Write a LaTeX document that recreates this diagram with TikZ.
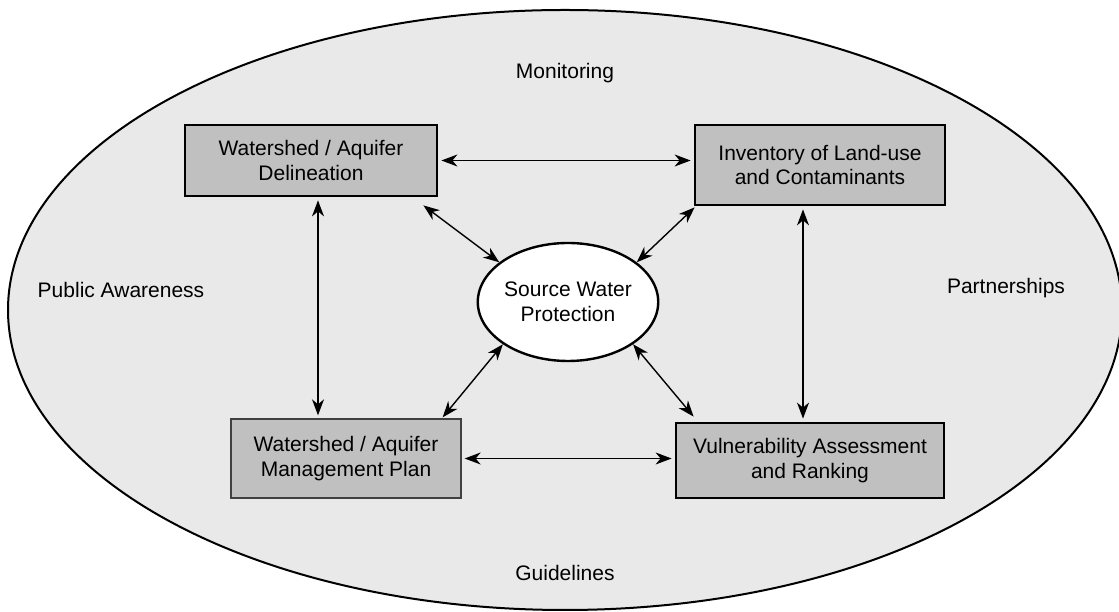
\documentclass[tikz,border=0pt]{standalone}
\usepackage{fontspec}
\setmainfont{Liberation Sans}
\usetikzlibrary{arrows.meta,shapes.geometric,calc}
\definecolor{bgfill}{HTML}{E9E9E9}
\definecolor{boxfill}{HTML}{C0C0C0}
\begin{document}
\begin{tikzpicture}[x=1pt,y=1pt,
  txt/.style={font=\fontsize{21}{24.5}\selectfont, align=center},
  procbox/.style={txt, draw=black, line width=2.8pt, fill=boxfill, inner sep=0pt},
  conn/.style={line width=1.4pt, {Stealth[length=16pt,width=12pt,inset=5pt]}-{Stealth[length=16pt,width=12pt,inset=5pt]}}
]
\useasboundingbox (0,0) rectangle (1119,612);
\clip (0,0) rectangle (1119,612);
\draw[line width=2pt, fill=bgfill] (565,302) ellipse [x radius=557, y radius=300];

\node[txt] (mon) at (565,539) {Monitoring};
\node[txt] (pub) at (121,322) {Public Awareness};
\node[txt] (par) at (1006,324) {Partnerships};
\node[txt] (gui) at (565,39) {Guidelines};

\node[procbox, minimum width=252, minimum height=71] (tl) at (311,451.5) {Watershed / Aquifer\\Delineation};
\node[procbox, minimum width=250, minimum height=80] (tr) at (820,447) {Inventory of Land-use\\and Contaminants};
\node[procbox, draw=black!75, line width=1.3pt, minimum width=230, minimum height=79] (bl) at (346,153.5) {Watershed / Aquifer\\Management Plan};
\node[procbox, minimum width=268, minimum height=75] (br) at (810,151.5) {Vulnerability Assessment\\and Ranking};

\node[txt, ellipse, draw=black, line width=2.4pt, fill=white, inner sep=0pt, minimum width=178, minimum height=118] (c) at (568,310) {Source Water\\Protection};

\draw[conn, shorten <=3pt, shorten >=3pt] (tl.east) -- (tl.east -| tr.west);
\draw[conn, shorten <=3pt, shorten >=3pt] (bl.east) -- (bl.east -| br.west);
\draw[conn, shorten <=3pt, shorten >=3pt] ([xshift=7pt]tl.south) -- ([xshift=7pt]tl.south |- bl.north);
\draw[conn, shorten <=3pt, shorten >=3pt] ([xshift=-17pt]tr.south) -- ([xshift=-17pt]tr.south |- br.north);

\draw[conn] ([shift={(-15pt,-8pt)}]tl.south east) -- (c.150);
\draw[conn] ([shift={(1pt,-1pt)}]tr.south west) -- (c.30);
\draw[conn] ([shift={(-19pt,1pt)}]bl.north east) -- (c.213);
\draw[conn] ([shift={(19pt,5pt)}]br.north west) -- (c.327);
\end{tikzpicture}
\end{document}
